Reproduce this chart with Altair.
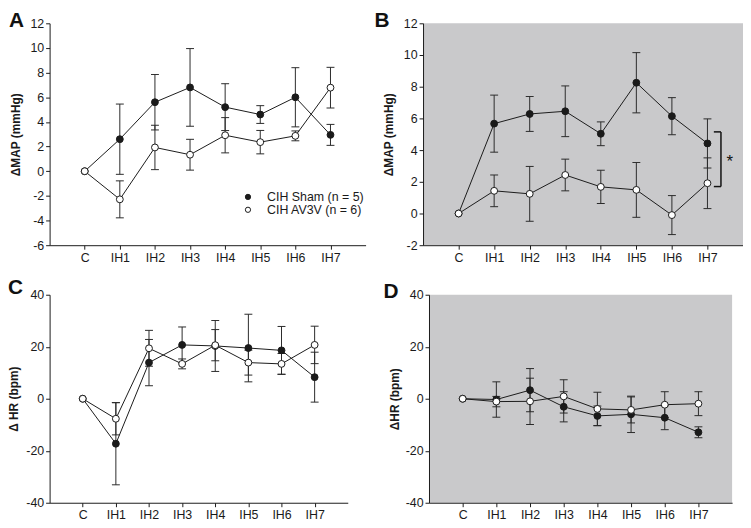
import json
import altair as alt
import pandas as pd

# ---------------- data ----------------
categories = ["C", "IH1", "IH2", "IH3", "IH4", "IH5", "IH6", "IH7"]
group_names = ["CIH Sham (n = 5)", "CIH AV3V (n = 6)"]

# Panel A  (ΔMAP, CIH)
sham_A_mean = [0, 2.6, 5.6, 6.8, 5.2, 4.6, 6.0, 2.95]
sham_A_sem = [0, 2.85, 2.25, 3.15, 1.9, 0.72, 2.4, 0.85]
av3v_A_mean = [0, -2.28, 1.93, 1.34, 2.92, 2.36, 2.87, 6.78]
av3v_A_sem = [0, 1.5, 1.8, 1.25, 1.43, 0.95, 0.4, 1.65]

# Panel B  (ΔMAP)
sham_B_mean = [0, 5.67, 6.28, 6.45, 5.03, 8.25, 6.14, 4.42]
sham_B_sem = [0, 1.8, 1.1, 1.6, 0.75, 1.9, 1.17, 1.55]
av3v_B_mean = [0, 1.43, 1.24, 2.43, 1.68, 1.49, -0.1, 1.91]
av3v_B_sem = [0, 1.0, 1.73, 1.0, 1.05, 1.73, 1.23, 1.6]

# Panel C  (ΔHR)
sham_C_mean = [0, -17.3, 13.9, 20.7, 20.3, 19.5, 18.6, 8.3]
sham_C_sem = [0, 15.8, 8.9, 6.9, 9.8, 13.0, 9.2, 9.6]
av3v_C_mean = [0, -7.7, 19.4, 13.4, 20.6, 13.9, 13.4, 20.7]
av3v_C_sem = [0, 6.2, 6.9, 1.9, 6.0, 4.8, 4.0, 7.2]

# Panel D  (ΔHR)
sham_D_mean = [0, -0.3, 3.3, -3.1, -6.6, -6.0, -7.3, -12.9]
sham_D_sem = [0, 6.8, 8.3, 5.8, 3.8, 7.0, 4.6, 2.1]
av3v_D_mean = [0, -1.1, -1.0, 0.9, -3.9, -4.3, -2.3, -1.9]
av3v_D_sem = [0, 2.0, 8.9, 6.4, 6.4, 5.0, 5.0, 4.6]

# significance bracket in panel B (data coordinates)
bracket_x = [7.18, 7.38]
bracket_y = [1.7, 5.15]
star_x = 7.63
star_text = "*"

FONT = "Liberation Sans"
INK = "#1a1a1a"
GRAY_BG = "#c9c9cb"

label_expr = json.dumps(categories) + "[datum.value]"


def make_df(sm, ss, am, as_):
    rows = []
    for i in range(len(categories)):
        rows.append({"x": i, "mean": sm[i], "sem": ss[i], "group": group_names[0]})
    for i in range(len(categories)):
        rows.append({"x": i, "mean": am[i], "sem": as_[i], "group": group_names[1]})
    df = pd.DataFrame(rows)
    df["lo"] = df["mean"] - df["sem"]
    df["hi"] = df["mean"] + df["sem"]
    return df


def panel(letter, df, ydom, yvals, ytitle, width, height, bg, letter_x, letter_y,
          title_x, legend=None, extra=None):
    xscale = alt.Scale(domain=[-1, 8], nice=False, zero=False)
    yscale = alt.Scale(domain=ydom, nice=False, zero=False)
    xaxis = alt.Axis(values=list(range(len(categories))), tickCount=20,
                     labelExpr=label_expr, title=None,
                     grid=False, tickSize=4, tickColor=INK, domainColor=INK,
                     labelFont=FONT, labelFontSize=12.5, labelColor=INK, labelPadding=2,
                     labelAngle=0, labelOverlap=False)
    yaxis = alt.Axis(values=yvals, tickCount=20, labelExpr="'' + datum.value", title=ytitle,
                     grid=False, tickSize=4, tickColor=INK, labelOverlap=False,
                     domainColor=INK, labelFont=FONT, labelFontSize=12.5, labelColor=INK,
                     labelPadding=2, titleFont=FONT, titleFontSize=12, titleFontWeight="bold",
                     titleColor=INK, titleX=title_x, titleY=height / 2, titleAngle=270,
                     titleBaseline="bottom", titleAlign="center")
    base = alt.Chart(df)
    X = alt.X("x:Q", scale=xscale, axis=xaxis)
    errdf = base.transform_filter("datum.sem > 0")
    err = errdf.mark_rule(color="#2a2a2a", strokeWidth=1).encode(
        x=X, y=alt.Y("lo:Q", scale=yscale, axis=yaxis), y2="hi:Q")
    cap_lo = errdf.mark_tick(orient="horizontal", size=8, thickness=1, color="#2a2a2a",
                             opacity=1).encode(x="x:Q", y="lo:Q")
    cap_hi = errdf.mark_tick(orient="horizontal", size=8, thickness=1, color="#2a2a2a",
                             opacity=1).encode(x="x:Q", y="hi:Q")
    lines = base.mark_line(color=INK, strokeWidth=1).encode(
        x="x:Q", y="mean:Q", detail="group:N")
    fill_enc = alt.Fill("group:N", scale=alt.Scale(domain=group_names, range=[INK, "white"]),
                        legend=legend)
    points = base.mark_circle(size=48, stroke=INK, strokeWidth=1, opacity=1).encode(
        x="x:Q", y="mean:Q", fill=fill_enc)
    letter_mark = alt.Chart(pd.DataFrame({"t": [letter]})).mark_text(
        font=FONT, fontSize=21, fontWeight="bold", align="left", baseline="alphabetic",
        color="#111").encode(text="t:N", x=alt.value(letter_x), y=alt.value(letter_y))
    layers = [err, cap_lo, cap_hi, lines, points]
    if extra is not None:
        layers += extra
    layers.append(letter_mark)
    view = alt.ViewBackground(stroke=None, fill=bg) if bg else alt.ViewBackground(stroke=None)
    return alt.layer(*layers).properties(width=width, height=height, view=view)


legend_A = alt.Legend(title=None, orient="none", legendX=194, legendY=169, padding=0,
                      labelFont=FONT, labelFontSize=12.5, labelColor=INK, symbolSize=28,
                      symbolType="circle", symbolStrokeColor=INK, symbolStrokeWidth=1,
                      rowPadding=-12, labelOffset=13)

dfA = make_df(sham_A_mean, sham_A_sem, av3v_A_mean, av3v_A_sem)
dfB = make_df(sham_B_mean, sham_B_sem, av3v_B_mean, av3v_B_sem)
dfC = make_df(sham_C_mean, sham_C_sem, av3v_C_mean, av3v_C_sem)
dfD = make_df(sham_D_mean, sham_D_sem, av3v_D_mean, av3v_D_sem)

# bracket annotation for panel B
br_df = pd.DataFrame({
    "x1": [bracket_x[0], bracket_x[0], bracket_x[1]],
    "x2": [bracket_x[1], bracket_x[1], bracket_x[1]],
    "y1": [bracket_y[1], bracket_y[0], bracket_y[0]],
    "y2": [bracket_y[1], bracket_y[0], bracket_y[1]],
})
bracket = alt.Chart(br_df).mark_rule(color="#111", strokeWidth=1.5).encode(
    x="x1:Q", x2="x2:Q", y="y1:Q", y2="y2:Q")
star = alt.Chart(pd.DataFrame({"x": [star_x], "y": [(bracket_y[0] + bracket_y[1]) / 2],
                               "t": [star_text]})).mark_text(
    font=FONT, fontSize=17, color="#111", baseline="middle", align="center", dy=3).encode(
    x="x:Q", y="y:Q", text="t:N")

A = panel("A", dfA, [-6, 12], list(range(-6, 13, 2)), "ΔMAP (mmHg)", 319, 224, None,
          -41, 4, -27, legend=legend_A)
B = panel("B", dfB, [-2, 12], list(range(-2, 13, 2)), "ΔMAP (mmHg)", 323, 224, GRAY_BG,
          -49, 4, -28, extra=[bracket, star])
C = panel("C", dfC, [-40, 40], [-40, -20, 0, 20, 40], "Δ HR (bpm)", 301, 210, None,
          -42, -1, -29)
D = panel("D", dfD, [-40, 40], [-40, -20, 0, 20, 40], "ΔHR (bpm)", 306, 210, GRAY_BG,
          -46, 3, -28)

row1 = alt.hconcat(A, B, spacing=9).resolve_scale(fill="independent")
row2 = alt.hconcat(C, D, spacing=36).resolve_scale(fill="independent")
chart = alt.vconcat(row1, row2, spacing=13).resolve_scale(fill="independent").properties(
    padding={"left": 0, "top": 0, "right": 0, "bottom": 0}, background="white")

chart.save("out.html", embed_options={"renderer": "svg", "actions": False})
